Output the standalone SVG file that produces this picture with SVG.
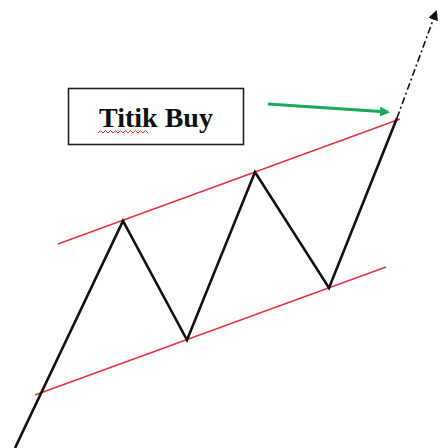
<svg xmlns="http://www.w3.org/2000/svg" width="440" height="448" viewBox="0 0 440 448">
<style>
.red{stroke:#e8323c;stroke-width:1.5;fill:none}
.price{stroke:#111;stroke-width:2.6;fill:none;stroke-linejoin:miter}
.lbl{font-family:"Liberation Serif",serif;font-weight:bold;font-size:28px;fill:#111}
</style>
<defs>
<marker id="ga" markerWidth="10" markerHeight="10" refX="8" refY="5" orient="auto" markerUnits="userSpaceOnUse" viewBox="0 0 10 10"><path d="M0,0 L10,5 L0,10 Z" fill="#1aa85a"/></marker>
<marker id="ba" markerWidth="10" markerHeight="10" refX="8" refY="5" orient="auto" markerUnits="userSpaceOnUse" viewBox="0 0 10 10"><path d="M0,0 L10,5 L0,10 Z" fill="#111"/></marker>
</defs>
<rect width="440" height="448" fill="#fff"/>
<g id="connectors">
<line class="red" x1="58" y1="244" x2="400" y2="119"/>
<line class="red" x1="35" y1="395" x2="386" y2="267"/>
<polyline class="price" points="15,448 123,221 187,340 255,172 329,288 397,118"/>
<line x1="397" y1="118" x2="436" y2="12" stroke="#111" stroke-width="1.6" stroke-dasharray="7,3,2,3" marker-end="url(#ba)"/>
<line x1="268" y1="104" x2="388" y2="112" stroke="#1aa85a" stroke-width="3" marker-end="url(#ga)"/>
</g>
<g id="label">
<rect x="68.5" y="88.5" width="175" height="56" fill="#fff" stroke="#222" stroke-width="1.6"/>
<text class="lbl" x="156" y="127" text-anchor="middle">Titik Buy</text>
<path d="M98,133 l2.5,-2.5 l2.5,2.5 l2.5,-2.5 l2.5,2.5 l2.5,-2.5 l2.5,2.5 l2.5,-2.5 l2.5,2.5 l2.5,-2.5 l2.5,2.5 l2.5,-2.5 l2.5,2.5 l2.5,-2.5 l2.5,2.5 l2.5,-2.5 l2.5,2.5 l2.5,-2.5 l2.5,2.5 l2.5,-2.5 l2.5,2.5" fill="none" stroke="#e03030" stroke-width="1"/>
</g>
</svg>
